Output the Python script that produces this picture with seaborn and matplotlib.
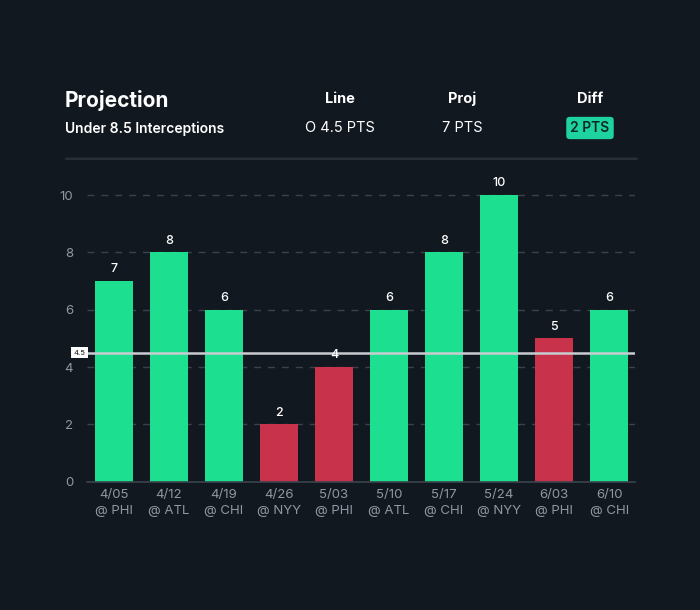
import matplotlib
matplotlib.use('Agg')
import matplotlib.pyplot as plt
import seaborn as sns
import pandas as pd
from matplotlib.patches import FancyBboxPatch
from matplotlib.transforms import blended_transform_factory

# data
dates = ['4/05', '4/12', '4/19', '4/26', '5/03', '5/10', '5/17', '5/24', '6/03', '6/10']
opponents = ['@ PHI', '@ ATL', '@ CHI', '@ NYY', '@ PHI', '@ ATL', '@ CHI', '@ NYY', '@ PHI', '@ CHI']
values = [7, 8, 6, 2, 4, 6, 8, 10, 5, 6]
results = ['hit', 'hit', 'hit', 'miss', 'miss', 'hit', 'hit', 'hit', 'miss', 'hit']
line_value = 4.5
yticks = [0, 2, 4, 6, 8, 10]

bg = '#12181f'
green = '#1ddf90'
red = '#c8324a'
grid_color = '#3a434d'
tick_color = '#8f98a2'

sns.set_theme(style='dark')
plt.rcParams['font.family'] = ['Inter', 'DejaVu Sans']

labels = [f'{d}\n{o}' for d, o in zip(dates, opponents)]
df = pd.DataFrame({'game': labels, 'value': values, 'result': results})

fig = plt.figure(figsize=(7, 6.1), dpi=100, facecolor=bg)
ax = fig.add_axes([87 / 700, 1 - 481.7 / 610, 548 / 700, 301 / 610])
ax.set_facecolor(bg)

sns.barplot(data=df, x='game', y='value', hue='result',
            palette={'hit': green, 'miss': red}, dodge=False,
            width=0.69, legend=False, ax=ax, saturation=1,
            edgecolor='none', linewidth=0)

for c in ax.containers:
    for t in ax.bar_label(c, padding=4, color='white', fontsize=9, fontweight='medium'):
        t.set_zorder(6)

ax.set_ylim(0, 10.5)
ax.set_xlim(-0.49, 9.47)
ax.set_yticks(yticks)
ax.set_xlabel('')
ax.set_ylabel('')
ax.grid(False)
for y in yticks[1:]:
    ax.axhline(y, color=grid_color, lw=1, ls=(0, (5, 5)), zorder=0)

ax.axhline(line_value, color='#c9cdd2', lw=1.8, zorder=3)
trans = blended_transform_factory(ax.transAxes, ax.transData)
ax.text(-0.014, line_value, '4.5', transform=trans, ha='center', va='center',
        fontsize=5.5, color='#12181f', zorder=5,
        bbox=dict(boxstyle='square,pad=0.3', fc='white', ec='none'))

for s in ['left', 'right', 'top']:
    ax.spines[s].set_visible(False)
ax.spines['bottom'].set_color(grid_color)
ax.spines['bottom'].set_linewidth(1.2)
ax.tick_params(axis='both', colors=tick_color, labelsize=9.5, length=0)
ax.tick_params(axis='y', pad=10)
ax.tick_params(axis='x', pad=5)
for t in ax.get_xticklabels():
    t.set_linespacing(1.45)

# header
fig.text(65 / 700, 1 - 101 / 610, 'Projection', color='white', fontsize=15,
         fontweight='bold', va='center', ha='left')
fig.text(65 / 700, 1 - 129 / 610, 'Under 8.5 Interceptions', color='white',
         fontsize=10, fontweight='semibold', va='center', ha='left')

cols = [('Line', 'O 4.5 PTS', 340), ('Proj', '7 PTS', 462), ('Diff', '2 PTS', 590)]
for head, val, x in cols:
    fig.text(x / 700, 1 - 99 / 610, head, color='white', fontsize=10.5,
             fontweight='bold', ha='center', va='center')
    if head == 'Diff':
        fig.text(x / 700, 1 - 128 / 610, val, color='#0d2a22', fontsize=10,
                 fontweight='semibold', ha='center', va='center',
                 bbox=dict(boxstyle='round,pad=0.3,rounding_size=0.25',
                           fc='#1ed3a0', ec='none'))
    else:
        fig.text(x / 700, 1 - 128 / 610, val, color='white', fontsize=10.5,
                 ha='center', va='center')

sep = FancyBboxPatch((65 / 700, 1 - 160 / 610), 573 / 700, 2.5 / 610,
                     boxstyle='round,pad=0,rounding_size=0.002',
                     transform=fig.transFigure, fc='#262e37', ec='none')
fig.patches.append(sep)

fig.savefig('out.png', dpi=100, facecolor=bg)
